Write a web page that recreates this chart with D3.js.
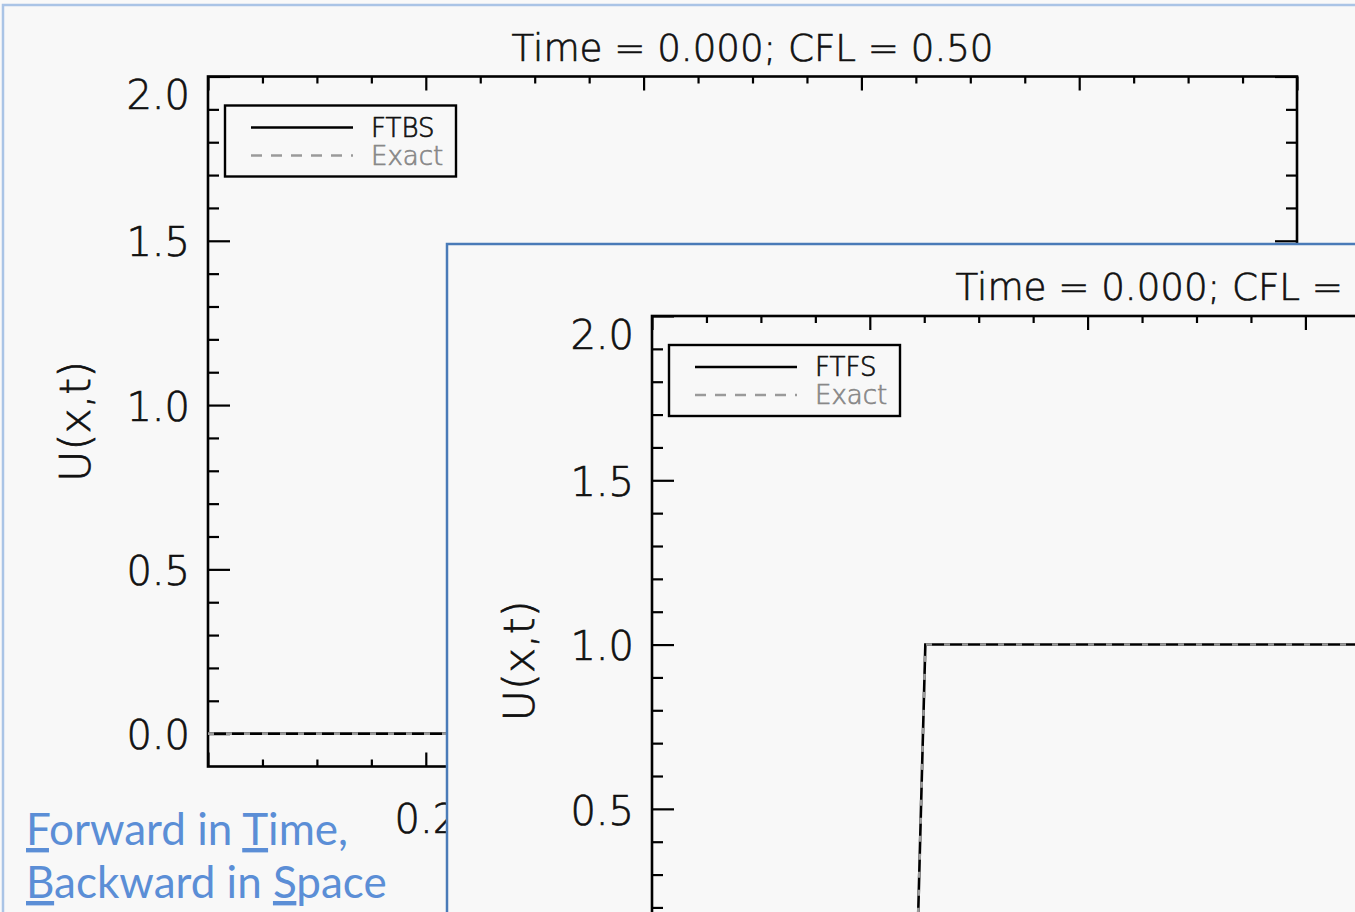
<!DOCTYPE html>
<html>
<head>
<meta charset="utf-8">
<script src="https://cdn.jsdelivr.net/npm/d3@7"></script>
<style>
  html, body { margin: 0; padding: 0; background: #f9f9f9; }
  svg { display: block; }
</style>
</head>
<body>
<svg id="chart" width="1355" height="912"></svg>
<script>
// Initial condition U(x, 0) sampled on the grid: a square pulse
const gridX       = [0.0, 0.243, 0.251, 0.750, 0.758, 1.0];
const ftbsValues  = [0, 0, 1, 1, 0, 0];
const ftfsValues  = [0, 0, 1, 1, 0, 0];
const exactValues = [0, 0, 1, 1, 0, 0];

const schemeNames = ["FTBS", "FTFS"];
const titleText   = "Time = 0.000; CFL = 0.50";
const yAxisTitle  = "U(x,t)";

const xDomain = [0, 1];
const yDomain = [-0.1, 2.0];
const xMajorTicks = [0.0, 0.2, 0.4, 0.6, 0.8, 1.0];
const xTickLabels = ["0.0", "0.2", "0.4", "0.6", "0.8", "1.0"];
const xMinorTicks = [0.05, 0.1, 0.15, 0.25, 0.3, 0.35, 0.45, 0.5, 0.55, 0.65, 0.7, 0.75, 0.85, 0.9, 0.95];
const yMajorTicks = [0.0, 0.5, 1.0, 1.5, 2.0];
const yTickLabels = ["0.0", "0.5", "1.0", "1.5", "2.0"];
const yMinorTicks = [0.1, 0.2, 0.3, 0.4, 0.6, 0.7, 0.8, 0.9, 1.1, 1.2, 1.3, 1.4, 1.6, 1.7, 1.8, 1.9];

const captionLines = [
  [{t: "F", u: true}, {t: "orward in "}, {t: "T", u: true}, {t: "ime,"}],
  [{t: "B", u: true}, {t: "ackward in "}, {t: "S", u: true}, {t: "pace"}]
];

const W = 1355, H = 912;
const svg = d3.select("#chart");
const BG = "#f8f8f8";
const plotFont = "'DejaVu Sans', sans-serif";

svg.append("rect").attr("width", W).attr("height", H).attr("fill", "#f9f9f9");

// Thin vector-style lettering for the plot windows
const plotText = (sel, size, color) => sel
  .attr("font-family", plotFont).attr("font-size", size).attr("font-weight", 200)
  .attr("fill", color).attr("stroke", color).attr("stroke-width", 0.7);

// Each slide panel holds one IDL-style plot window.
// xLabels: which bottom-axis labels stay uncovered on the slide.
const panels = [
  { fx: 3,   fy: 5,   frame: "#aac4e6", left: 208, top: 76.5, values: ftbsValues, name: schemeNames[0], xLabels: ["0.2"] },
  { fx: 447, fy: 244, frame: "#4a7bb8", left: 652, top: 316,  values: ftfsValues, name: schemeNames[1], xLabels: [] }
];

const plotW = 1089, plotH = 690;

function drawPanel(p) {
  const g = svg.append("g");
  g.append("rect")
    .attr("x", p.fx).attr("y", p.fy)
    .attr("width", 1500).attr("height", 1200)
    .attr("fill", BG)
    .attr("stroke", p.frame).attr("stroke-width", 2.5);

  const x = d3.scaleLinear().domain(xDomain).range([p.left, p.left + plotW]);
  const y = d3.scaleLinear().domain(yDomain).range([p.top + plotH, p.top]);

  const axStyle = sel => {
    sel.select(".domain").remove();
    sel.selectAll(".tick line").attr("stroke", "#000").attr("stroke-width", 2.2);
    sel.selectAll("text").call(plotText, 40, "#111");
  };

  // Left axis: labelled major ticks and minor ticks, pointing inward
  g.append("g").attr("transform", `translate(${p.left},0)`)
    .call(d3.axisLeft(y).tickValues(yMajorTicks).tickSize(-22).tickPadding(18)
      .tickFormat((d, i) => y(d) < H - 20 ? yTickLabels[i] : ""))
    .call(axStyle)
    .call(sel => sel.selectAll("text").attr("dy", d => d === 2.0 ? "0.8em" : "0.38em"));
  g.append("g").attr("transform", `translate(${p.left},0)`)
    .call(d3.axisLeft(y).tickValues(yMinorTicks).tickSize(-11).tickFormat(""))
    .call(axStyle);

  // Right axis
  const right = p.left + plotW;
  g.append("g").attr("transform", `translate(${right},0)`)
    .call(d3.axisRight(y).tickValues(yMajorTicks).tickSize(-22).tickFormat(""))
    .call(axStyle);
  g.append("g").attr("transform", `translate(${right},0)`)
    .call(d3.axisRight(y).tickValues(yMinorTicks).tickSize(-11).tickFormat(""))
    .call(axStyle);

  // Bottom axis with labels
  const bottom = p.top + plotH;
  g.append("g").attr("transform", `translate(0,${bottom})`)
    .call(d3.axisBottom(x).tickValues(xMajorTicks).tickSize(-14).tickPadding(38)
      .tickFormat((d, i) => p.xLabels.includes(xTickLabels[i]) ? xTickLabels[i] : ""))
    .call(axStyle);
  g.append("g").attr("transform", `translate(0,${bottom})`)
    .call(d3.axisBottom(x).tickValues(xMinorTicks).tickSize(-7).tickFormat(""))
    .call(axStyle);

  // Top axis
  g.append("g").attr("transform", `translate(0,${p.top})`)
    .call(d3.axisTop(x).tickValues(xMajorTicks).tickSize(-14).tickFormat(""))
    .call(axStyle);
  g.append("g").attr("transform", `translate(0,${p.top})`)
    .call(d3.axisTop(x).tickValues(xMinorTicks).tickSize(-7).tickFormat(""))
    .call(axStyle);

  // Plot box
  g.append("rect")
    .attr("x", p.left).attr("y", p.top).attr("width", plotW).attr("height", plotH)
    .attr("fill", "none").attr("stroke", "#000").attr("stroke-width", 2.6);

  // Title
  g.append("text")
    .attr("x", p.left + plotW / 2).attr("y", p.top - 16)
    .attr("text-anchor", "middle")
    .call(plotText, 37, "#111")
    .attr("textLength", 482).attr("lengthAdjust", "spacingAndGlyphs")
    .text(titleText);

  // Y axis title
  g.append("text")
    .attr("transform", `translate(${p.left - 133},${p.top + plotH / 2}) rotate(-90)`)
    .attr("text-anchor", "middle").attr("dy", "0.36em")
    .call(plotText, 43, "#111")
    .text(yAxisTitle);

  // Data: numerical solution (solid black) and exact solution (grey dashes)
  const line = d3.line().x(d => x(d.x)).y(d => y(d.u));
  const numeric = gridX.map((v, i) => ({x: v, u: p.values[i]}));
  const exact = gridX.map((v, i) => ({x: v, u: exactValues[i]}));
  g.append("path").datum(numeric).attr("d", line)
    .attr("fill", "none").attr("stroke", "#000").attr("stroke-width", 2.6);
  g.append("path").datum(exact).attr("d", line)
    .attr("fill", "none").attr("stroke", "#9a9a9a").attr("stroke-width", 2.6)
    .attr("stroke-dasharray", "6,12");

  // Legend
  const lg = g.append("g").attr("transform", `translate(${p.left + 17},${p.top + 29})`);
  lg.append("rect").attr("width", 231).attr("height", 71)
    .attr("fill", BG).attr("stroke", "#000").attr("stroke-width", 2.4);
  const items = [
    {label: p.name, color: "#000", dash: null, textColor: "#111"},
    {label: "Exact", color: "#9a9a9a", dash: "11,9", textColor: "#888"}
  ];
  items.forEach((it, i) => {
    const yy = 22 + i * 28;
    lg.append("line").attr("x1", 26).attr("x2", 128).attr("y1", yy).attr("y2", yy)
      .attr("stroke", it.color).attr("stroke-width", 2.4)
      .attr("stroke-dasharray", it.dash);
    lg.append("text").attr("x", 146).attr("y", yy).attr("dy", "0.36em")
      .call(plotText, 26, it.textColor)
      .text(it.label);
  });
}

// First panel, then its caption box, then the overlapping second panel
drawPanel(panels[0]);

const cap = svg.append("g");
cap.append("rect").attr("x", 6).attr("y", 790).attr("width", 381).attr("height", 122).attr("fill", BG);
captionLines.forEach((parts, li) => {
  const t = cap.append("text")
    .attr("x", 26).attr("y", 845 + li * 53)
    .attr("font-family", "Lato, 'Open Sans', sans-serif").attr("font-size", 44)
    .attr("fill", "#5b8ed6");
  parts.forEach(pt => {
    t.append("tspan").text(pt.t)
      .style("text-decoration", pt.u ? "underline" : "none");
  });
});

drawPanel(panels[1]);
</script>
</body>
</html>
